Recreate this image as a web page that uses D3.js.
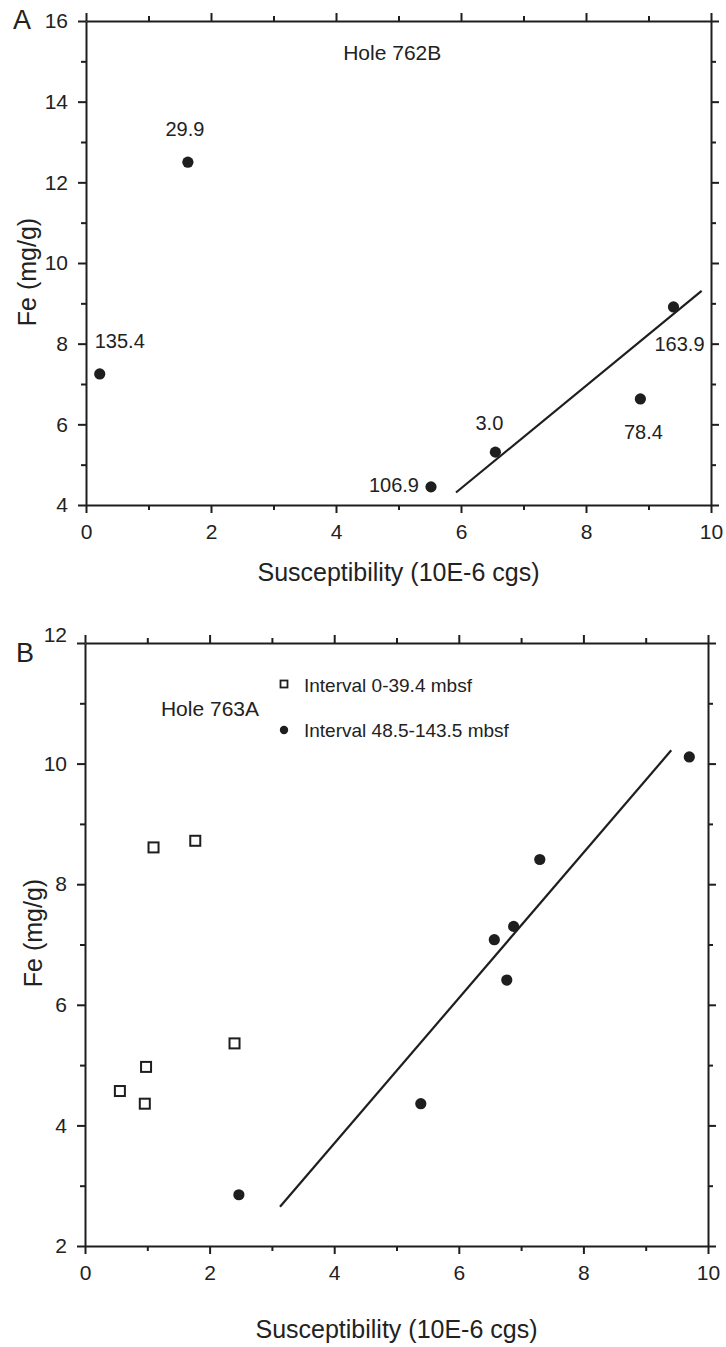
<!DOCTYPE html>
<html>
<head>
<meta charset="utf-8">
<script src="https://cdn.jsdelivr.net/npm/d3@7"></script>
<style>
  body { margin: 0; background: #fff; }
  svg { display: block; font-family: "Liberation Sans", Arial, sans-serif; }
  .domain, .tick line { stroke: #1e1e1e; stroke-width: 2; }
  .tick text { fill: #222; font-size: 21px; }
  .fit { stroke: #1e1e1e; stroke-width: 2.2; fill: none; }
</style>
</head>
<body>
<svg id="chart" width="726" height="1347"></svg>
<script>
// Hole 762B (panel A) - labelled by depth (mbsf)
const holeALabels = ["135.4", "29.9", "106.9", "3.0", "78.4", "163.9"];
const holeASusc   = [0.22, 1.63, 5.52, 6.55, 8.87, 9.40];
const holeAFe     = [7.25, 12.5, 4.45, 5.31, 6.63, 8.91];
const holeAFit    = [[5.92, 4.31], [9.85, 9.31]];

// Hole 763A (panel B)
const upperSusc = [1.10, 1.77, 2.40, 0.98, 0.56, 0.96];   // 0-39.4 mbsf
const upperFe   = [8.61, 8.72, 5.36, 4.97, 4.57, 4.36];
const lowerSusc = [2.47, 5.39, 6.57, 6.77, 6.88, 7.30, 9.70]; // 48.5-143.5 mbsf
const lowerFe   = [2.85, 4.36, 7.08, 6.41, 7.30, 8.41, 10.11];
const holeBFit  = [[3.13, 2.65], [9.41, 10.22]];

const xMajor = [0, 2, 4, 6, 8, 10];
const xMinor = [1, 3, 5, 7, 9];
const yMajorA = [4, 6, 8, 10, 12, 14, 16];
const yMinorA = [5, 7, 9, 11, 13, 15];
const yMajorB = [2, 4, 6, 8, 10, 12];
const yMinorB = [3, 5, 7, 9, 11];

const legendLabels = ["Interval 0-39.4 mbsf", "Interval 48.5-143.5 mbsf"];

// label offsets for panel A points (layout only)
const labelOffsets = [[20, -33, "middle"], [-3, -33, "middle"], [-12, -2, "end"],
                      [-6, -29, "middle"], [3, 33, "middle"], [6, 37, "middle"]];

const svg = d3.select("#chart");
const ink = "#1e1e1e";

function frame(g, x, y, yMajor, yMinor, w, h) {
    g.append("g").attr("transform", `translate(0,${h})`)
        .call(d3.axisBottom(x).tickValues(xMajor).tickSize(8).tickSizeOuter(0).tickPadding(11));
    g.append("g").attr("transform", `translate(0,${h})`)
        .call(d3.axisBottom(x).tickValues(xMinor).tickSize(5).tickFormat(""))
        .select(".domain").remove();
    g.append("g")
        .call(d3.axisTop(x).tickValues(xMajor).tickSize(8).tickSizeOuter(0).tickFormat(""));
    g.append("g")
        .call(d3.axisTop(x).tickValues(xMinor).tickSize(5).tickFormat(""))
        .select(".domain").remove();
    g.append("g")
        .call(d3.axisLeft(y).tickValues(yMajor).tickSize(8).tickSizeOuter(0).tickPadding(10));
    g.append("g")
        .call(d3.axisLeft(y).tickValues(yMinor).tickSize(5).tickFormat(""))
        .select(".domain").remove();
    g.append("g").attr("transform", `translate(${w},0)`)
        .call(d3.axisRight(y).tickValues(yMajor).tickSize(8).tickSizeOuter(0).tickFormat(""));
    g.append("g").attr("transform", `translate(${w},0)`)
        .call(d3.axisRight(y).tickValues(yMinor).tickSize(5).tickFormat(""))
        .select(".domain").remove();
    g.selectAll(".tick text").attr("fill", "#222");
}

// ---------- Panel A ----------
{
    const left = 86, top = 21, w = 625, h = 484;
    const x = d3.scaleLinear().domain([0, 10]).range([0, w]);
    const y = d3.scaleLinear().domain([4, 16]).range([h, 0]);
    const g = svg.append("g").attr("transform", `translate(${left},${top})`);
    frame(g, x, y, yMajorA, yMinorA, w, h);

    g.append("path").attr("class", "fit")
        .attr("d", d3.line().x(d => x(d[0])).y(d => y(d[1]))(holeAFit));

    const pts = holeASusc.map((s, i) => ({s, fe: holeAFe[i], label: holeALabels[i], off: labelOffsets[i]}));
    g.selectAll("circle.pt").data(pts).join("circle").attr("class", "pt")
        .attr("cx", d => x(d.s)).attr("cy", d => y(d.fe)).attr("r", 5.6).attr("fill", ink);
    g.selectAll("text.lbl").data(pts).join("text").attr("class", "lbl")
        .attr("x", d => x(d.s) + d.off[0]).attr("y", d => y(d.fe) + d.off[1])
        .attr("text-anchor", d => d.off[2]).attr("dominant-baseline", "central")
        .attr("font-size", 20).attr("fill", "#222").text(d => d.label);

    g.append("text").attr("x", x(4.9)).attr("y", 31).attr("text-anchor", "middle")
        .attr("dominant-baseline", "central")
        .attr("font-size", 21).attr("fill", "#222").text("Hole 762B");

    svg.append("text").attr("x", left + w / 2).attr("y", 581).attr("text-anchor", "middle")
        .attr("font-size", 25).attr("fill", "#222").text("Susceptibility (10E-6 cgs)");
    svg.append("text").attr("transform", "translate(36,272) rotate(-90)").attr("text-anchor", "middle")
        .attr("font-size", 25).attr("fill", "#222").text("Fe (mg/g)");
    svg.append("text").attr("x", 13).attr("y", 29).attr("font-size", 27).attr("fill", "#222").text("A");
}

// ---------- Panel B ----------
{
    const left = 85, top = 643, w = 623, h = 603;
    const x = d3.scaleLinear().domain([0, 10]).range([0, w]);
    const y = d3.scaleLinear().domain([2, 12]).range([h, 0]);
    const g = svg.append("g").attr("transform", `translate(${left},${top})`);
    frame(g, x, y, yMajorB, yMinorB, w, h);
    // the top "12" label is set smaller and raised in the original
    g.selectAll(".tick text").filter(d => d === 12)
        .attr("font-size", 16).attr("dy", "-0.05em");

    g.append("path").attr("class", "fit")
        .attr("d", d3.line().x(d => x(d[0])).y(d => y(d[1]))(holeBFit));

    const sq = 10;
    g.selectAll("rect.up").data(upperSusc.map((s, i) => [s, upperFe[i]])).join("rect").attr("class", "up")
        .attr("x", d => x(d[0]) - sq / 2).attr("y", d => y(d[1]) - sq / 2)
        .attr("width", sq).attr("height", sq)
        .attr("fill", "#fff").attr("stroke", ink).attr("stroke-width", 2);
    g.selectAll("circle.lo").data(lowerSusc.map((s, i) => [s, lowerFe[i]])).join("circle").attr("class", "lo")
        .attr("cx", d => x(d[0])).attr("cy", d => y(d[1])).attr("r", 5.6).attr("fill", ink);

    // legend
    const lg = svg.append("g");
    lg.append("rect").attr("x", 280.5).attr("y", 680.5).attr("width", 7).attr("height", 7)
        .attr("fill", "#fff").attr("stroke", ink).attr("stroke-width", 1.8);
    lg.append("circle").attr("cx", 284).attr("cy", 730).attr("r", 4.2).attr("fill", ink);
    lg.selectAll("text").data(legendLabels).join("text")
        .attr("x", 304).attr("y", (d, i) => 685 + i * 45).attr("dominant-baseline", "central")
        .attr("font-size", 19).attr("fill", "#222").text(d => d);
    svg.append("text").attr("x", 210).attr("y", 708).attr("text-anchor", "middle")
        .attr("dominant-baseline", "central").attr("font-size", 21).attr("fill", "#222").text("Hole 763A");

    svg.append("text").attr("x", left + w / 2).attr("y", 1338).attr("text-anchor", "middle")
        .attr("font-size", 25).attr("fill", "#222").text("Susceptibility (10E-6 cgs)");
    svg.append("text").attr("transform", "translate(42,933) rotate(-90)").attr("text-anchor", "middle")
        .attr("font-size", 25).attr("fill", "#222").text("Fe (mg/g)");
    svg.append("text").attr("x", 16).attr("y", 662).attr("font-size", 27).attr("fill", "#222").text("B");
}
</script>
</body>
</html>
